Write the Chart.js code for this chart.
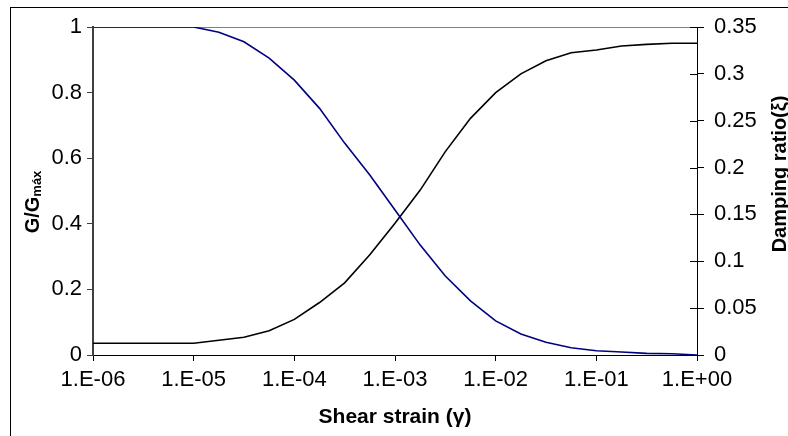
<!DOCTYPE html>
<html><head><meta charset="utf-8">
<script src="https://cdn.jsdelivr.net/npm/chart.js@4"></script>
<style>
html,body{margin:0;padding:0;background:#fff;overflow:hidden}
#wrap{position:relative;width:788px;height:436px}
#frame{position:absolute;left:10px;top:7px;width:800px;height:500px;border-left:1px solid #000;border-top:1px solid #000;pointer-events:none}
canvas{display:block}
</style></head><body>
<div id="wrap"><canvas id="c" width="788" height="436"></canvas><div id="frame"></div></div>
<script>
// Shear strain values (x)
const strain = [1e-6,1.78e-6,3.16e-6,5.62e-6,1e-5,1.78e-5,3.16e-5,5.62e-5,1e-4,1.78e-4,3.16e-4,5.62e-4,1e-3,1.78e-3,3.16e-3,5.62e-3,1e-2,1.78e-2,3.16e-2,5.62e-2,0.1,0.178,0.316,0.562,1];
// G/Gmax (left axis)
const gRatio = [1,1,1,1,1,0.984,0.955,0.905,0.838,0.752,0.646,0.549,0.442,0.335,0.241,0.165,0.104,0.064,0.039,0.022,0.013,0.009,0.005,0.004,0.000];
// Damping ratio (right axis)
const damping = [0.0125,0.0125,0.0125,0.0125,0.0125,0.0157,0.0189,0.0259,0.038,0.056,0.077,0.107,0.1405,0.176,0.217,0.2525,0.280,0.300,0.314,0.3225,0.3254,0.3297,0.3315,0.3326,0.3326];
// Tick values
const xTicks = [1e-6,1e-5,1e-4,1e-3,1e-2,1e-1,1];
const gTicks = [0,0.2,0.4,0.6,0.8,1];
const dTicks = [0,0.05,0.1,0.15,0.2,0.25,0.3,0.35];

const FONT = "'Liberation Sans', Arial, sans-serif";

function fmtExp(v){
  const e = Math.round(Math.log10(v));
  return '1.E' + (e < 0 ? '-' : '+') + String(Math.abs(e)).padStart(2,'0');
}

const decor = {
  id:'decor',
  beforeDatasetsDraw(chart){
    const {ctx, chartArea:a} = chart;
    ctx.save();
    ctx.strokeStyle = '#808080';
    ctx.lineWidth = 1;
    ctx.beginPath();
    ctx.moveTo(a.left, a.top + 0.5);
    ctx.lineTo(a.right, a.top + 0.5);
    ctx.stroke();
    // inward half of right-axis ticks
    const y1 = chart.scales.y1;
    ctx.strokeStyle = '#000';
    ctx.beginPath();
    dTicks.forEach(v=>{
      const py = Math.round(y1.getPixelForValue(v)) + 0.5;
      ctx.moveTo(a.right - 7, py);
      ctx.lineTo(a.right, py);
    });
    ctx.stroke();
    ctx.restore();
  },
  afterDraw(chart){
    const {ctx, chartArea:a} = chart;
    ctx.save();
    ctx.fillStyle = '#000';
    // x title
    ctx.font = 'bold 21px ' + FONT;
    ctx.textAlign = 'center';
    ctx.textBaseline = 'alphabetic';
    ctx.fillText('Shear strain (\u03B3)', (a.left + a.right)/2, 423);
    // left title with subscript
    ctx.save();
    ctx.translate(39, 202);
    ctx.rotate(-Math.PI/2);
    const big = 'bold 20px ' + FONT, small = 'bold 13px ' + FONT;
    ctx.font = big; const w1 = ctx.measureText('G/G').width;
    ctx.font = small; const w2 = ctx.measureText('máx').width;
    const start = -(w1 + w2)/2;
    ctx.textAlign = 'left';
    ctx.font = big; ctx.fillText('G/G', start, 0);
    ctx.font = small; ctx.fillText('máx', start + w1, 2);
    ctx.restore();
    // right title
    ctx.save();
    ctx.translate(786, 174);
    ctx.rotate(-Math.PI/2);
    ctx.font = 'bold 20px ' + FONT;
    ctx.textAlign = 'center';
    ctx.fillText('Damping ratio(\u03BE)', 0, 0);
    ctx.restore();
    ctx.restore();
  }
};

const tickFont = {family: FONT, size: 22};

new Chart(document.getElementById('c'), {
  type:'scatter',
  data:{
    datasets:[
      {label:'G/Gmáx', data: strain.map((x,i)=>({x, y:gRatio[i]})), yAxisID:'y', showLine:true,
       borderColor:'#000080', backgroundColor:'#000080', borderWidth:1.6, pointRadius:0, tension:0},
      {label:'Damping', data: strain.map((x,i)=>({x, y:damping[i]})), yAxisID:'y1', showLine:true,
       borderColor:'#000000', backgroundColor:'#000000', borderWidth:1.6, pointRadius:0, tension:0}
    ]
  },
  options:{
    responsive:false, animation:false, devicePixelRatio:1,
    layout:{padding:{top:27, left:0, right:0, bottom:0}},
    plugins:{legend:{display:false}, tooltip:{enabled:false}},
    scales:{
      x:{type:'logarithmic', position:'bottom', min:1e-6, max:1,
         afterBuildTicks(s){ s.ticks = xTicks.map(v=>({value:v})); },
         afterFit(s){ s.height = 81; },
         ticks:{callback:(v)=>fmtExp(v), font:tickFont, color:'#000', padding:6, maxRotation:0, autoSkip:false},
         grid:{drawOnChartArea:false, drawTicks:true, tickLength:6, color:'#000', tickColor:'#000'},
         border:{color:'#000', width:1}},
      y:{position:'left', min:0, max:1,
         afterBuildTicks(s){ s.ticks = gTicks.map(v=>({value:v})); },
         afterFit(s){ s.width = 93; },
         ticks:{callback:(v)=>String(v), font:tickFont, color:'#000', padding:5},
         grid:{drawOnChartArea:false, drawTicks:true, tickLength:6, color:'#404040', tickColor:'#404040'},
         border:{color:'#404040', width:2}},
      y1:{position:'right', min:0, max:0.35,
         afterBuildTicks(s){ s.ticks = dTicks.map(v=>({value:v})); },
         afterFit(s){ s.width = 91; },
         ticks:{callback:(v)=>String(v), font:tickFont, color:'#000', padding:10},
         grid:{drawOnChartArea:false, drawTicks:true, tickLength:7, color:'#000', tickColor:'#000'},
         border:{color:'#000', width:1}}
    }
  },
  plugins:[decor]
});
</script>
</body></html>
